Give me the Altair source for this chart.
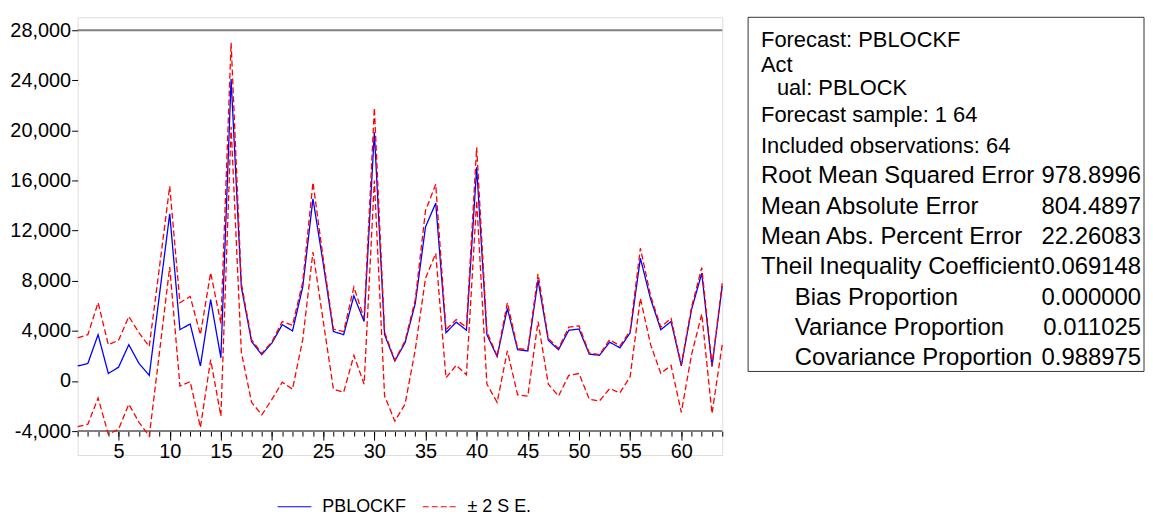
import altair as alt
import pandas as pd

# ---------------- data ----------------
periods = list(range(1, 65))
major_ticks = [5, 10, 15, 20, 25, 30, 35, 40, 45, 50, 55, 60]

forecast = [1200, 1400, 3700, 600, 1100, 2900, 1400, 450, 6900, 13350,
            4100, 4550, 1200, 6500, 1850, 24100, 7500, 3150, 2100, 3050,
            4500, 4000, 7500, 14550, 9400, 3950, 3700, 6800, 4750, 19850,
            3700, 1600, 3050, 6200, 12300, 14200, 3850, 4700, 4050, 17050,
            3700, 1950, 5800, 2500, 2400, 8050, 3250, 2500, 4050, 4150,
            2150, 2050, 3100, 2650, 3850, 9800, 6550, 4100, 4750, 1200,
            5700, 8600, 1150, 7600]

upper = [3450, 3700, 6250, 2900, 3250, 5150, 3850, 2750, 9100, 15550,
         6250, 6750, 3700, 8650, 4600, 27000, 7800, 3300, 2200, 3150,
         4750, 4450, 7900, 15850, 9800, 4150, 3950, 7500, 5000, 21800,
         3900, 1650, 3200, 6500, 13600, 15700, 4100, 4900, 4300, 18650,
         3900, 2000, 6250, 2600, 2500, 8550, 3400, 2600, 4300, 4400,
         2250, 2100, 3300, 2800, 4000, 10600, 6800, 4300, 5000, 1300,
         5900, 9050, 1250, 7800]

lower = [-3650, -3450, -1350, -4250, -3850, -1850, -3300, -4400, 2300, 9100,
         -400, -50, -3700, 1700, -2800, 20300, 2300, -1700, -2700, -1450,
         -100, -650, 3300, 10300, 4800, -650, -900, 2050, -250, 16000,
         -1200, -3200, -1850, 2500, 8200, 10200, 250, 1250, 500, 14400,
         -250, -1700, 2400, -1100, -1200, 4750, -250, -1200, 450, 600,
         -1450, -1600, -600, -950, 350, 6600, 2900, 600, 1250, -2500,
         2100, 5350, -2600, 2900]

y_ticks = [-4000, 0, 4000, 8000, 12000, 16000, 20000, 24000, 28000]
series_names = ["PBLOCKF", "± 2 S E."]

header_lines = ["Forecast: PBLOCKF", "Act", "ual: PBLOCK",
                "Forecast sample: 1 64", "Included observations: 64"]
stat_labels = ["Root Mean Squared Error", "Mean Absolute Error",
               "Mean Abs. Percent Error", "Theil Inequality Coefficient",
               "Bias Proportion", "Variance Proportion", "Covariance Proportion"]
stat_values = ["978.8996", "804.4897", "22.26083", "0.069148",
               "0.000000", "0.011025", "0.988975"]
stat_indent = [False, False, False, False, True, True, True]

# ---------------- build table ----------------
rows = []
for i, p in enumerate(periods):
    rows.append({"obs": p, "value": forecast[i], "series": series_names[0], "line": "f"})
    rows.append({"obs": p, "value": upper[i], "series": series_names[1], "line": "u"})
    rows.append({"obs": p, "value": lower[i], "series": series_names[1], "line": "l"})
df = pd.DataFrame(rows)

FONT = "Liberation Sans"
x_scale = alt.Scale(domain=[1, 64], nice=False, zero=False)
y_scale = alt.Scale(domain=[-5906, 29032], nice=False, zero=False)

y_axis = alt.Axis(values=y_ticks, title=None, grid=False, domain=False,
                  tickSize=6, tickColor="black",
                  labelExpr="replace(datum.label, '\u2212', '-')",
                  labelFont=FONT, labelFontSize=20, labelColor="black",
                  labelPadding=1)

x_axis_major = alt.Axis(values=major_ticks, title=None, grid=False, domain=False,
                        orient="bottom", offset=-24, tickColor="black", tickSize=9,
                        tickWidth=1,
                        labelOverlap=False, labelFlush=False,
                        labelFont=FONT, labelFontSize=20, labelColor="black",
                        labelPadding=2)
x_axis_minor = alt.Axis(values=periods, title=None, grid=False, domain=False,
                        orient="bottom", offset=-24, tickColor="black", tickSize=5,
                        tickWidth=1, labels=False)

legend_cfg = dict(title=None, orient="none", direction="horizontal",
                  legendX=200, legendY=474, symbolType="stroke",
                  symbolSize=1156, symbolStrokeWidth=1.2,
                  labelFont=FONT, labelFontSize=18, labelColor="black",
                  labelOffset=10, columnPadding=13, padding=0)

lines = alt.Chart(df).mark_line(strokeWidth=1.3).encode(
    x=alt.X("obs:Q", scale=x_scale, axis=x_axis_major),
    y=alt.Y("value:Q", scale=y_scale, axis=y_axis),
    color=alt.Color("series:N",
                    scale=alt.Scale(domain=series_names, range=["#0000ff", "#ff0000"]),
                    legend=alt.Legend(**legend_cfg)),
    strokeDash=alt.StrokeDash("series:N",
                              scale=alt.Scale(domain=series_names, range=[[1, 0], [6, 3]]),
                              legend=alt.Legend(**legend_cfg)),
    detail="line:N",
)

minor = alt.Chart(pd.DataFrame({"obs": periods})).mark_point(opacity=0).encode(
    x=alt.X("obs:Q", scale=x_scale, axis=x_axis_minor))

refs = alt.Chart(pd.DataFrame({"ref": [-4000, 28000]})).mark_rule(
    color="#7f7f7f", strokeWidth=2).encode(
    y=alt.Y("ref:Q", scale=y_scale, axis=y_axis))

one = pd.DataFrame({"k": [0]})
PLOT_LEFT = 78
PLOT_TOP = 16

box = alt.Chart(one).mark_rect(fill="white", stroke="#333333", strokeWidth=1).encode(
    x=alt.value(752 - PLOT_LEFT), x2=alt.value(1150 - PLOT_LEFT),
    y=alt.value(16 - PLOT_TOP), y2=alt.value(372 - PLOT_TOP))

texts = []
header_pos = [(765, 39), (765, 64), (781, 87), (765, 114), (765, 145)]
for line, (px, py) in zip(header_lines, header_pos):
    texts.append(alt.Chart(one).mark_text(align="left", baseline="middle", font=FONT,
                                          fontSize=22, color="black").encode(
        x=alt.value(px - PLOT_LEFT), y=alt.value(py - PLOT_TOP), text=alt.value(line)))

for i, (lab, val, ind) in enumerate(zip(stat_labels, stat_values, stat_indent)):
    py = 176 + i * 30.5
    lx = 799 if ind else 765
    texts.append(alt.Chart(one).mark_text(align="left", baseline="middle", font=FONT,
                                          fontSize=24, color="black").encode(
        x=alt.value(lx - PLOT_LEFT), y=alt.value(py - PLOT_TOP), text=alt.value(lab)))
    texts.append(alt.Chart(one).mark_text(align="right", baseline="middle", font=FONT,
                                          fontSize=24, color="black").encode(
        x=alt.value(1147 - PLOT_LEFT), y=alt.value(py - PLOT_TOP), text=alt.value(val)))

chart = alt.layer(refs, lines, minor, box, *texts).resolve_axis(x="independent").properties(
    width=648, height=440,
    autosize=alt.AutoSizeParams(type="none"),
    padding={"left": 70, "top": 8, "right": 425, "bottom": 66},
).configure_view(stroke="black", strokeWidth=1).configure(background="white")

chart.save("out.html", embed_options={"renderer": "svg", "actions": False})
